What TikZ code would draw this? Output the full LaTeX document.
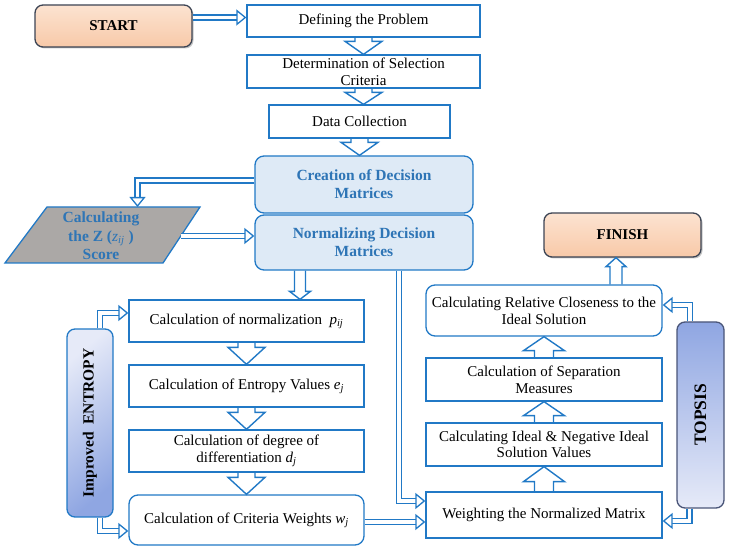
\documentclass[tikz,border=0pt]{standalone}
\usepackage{fontspec}
\setmainfont{Liberation Serif}
\usetikzlibrary{arrows.meta,calc,shadows}
\definecolor{bl}{HTML}{2179C6}
\definecolor{tb}{HTML}{2E75B6}
\definecolor{lbf}{HTML}{DEEAF6}
\definecolor{peach}{HTML}{F8C9A8}
\definecolor{peachl}{HTML}{FCE3D1}
\definecolor{dk}{HTML}{3C4454}
\definecolor{gr}{HTML}{ABA8A6}
\definecolor{pb}{HTML}{8FA6E2}
\definecolor{pl}{HTML}{E6EAF8}
\definecolor{tpb}{HTML}{4A5578}
\newcommand{\blockv}[5]{%
  \draw[blk] let \p1=(#1), \p2=(#2) in
    ({\x1-#3pt},\y1) -- ({\x1-#3pt},{\y2+(#5pt)}) -- ({\x1-#4pt},{\y2+(#5pt)})
    -- (\x1,\y2) -- ({\x1+#4pt},{\y2+(#5pt)}) -- ({\x1+#3pt},{\y2+(#5pt)})
    -- ({\x1+#3pt},\y1);}
\begin{document}
\begin{tikzpicture}[x=1pt,y=1pt,
  box/.style={draw=bl, line width=1.3pt, fill=white, align=center, inner sep=1pt,
    font=\fontsize{15}{16.8}\selectfont},
  rbox/.style={box, rounded corners=9pt},
  bbox/.style={rbox, fill=lbf, text=tb, font=\fontsize{15.5}{18}\selectfont\bfseries},
  term/.style={draw=dk, line width=1.3pt, rounded corners=8pt, top color=peachl,
    bottom color=peach, drop shadow={shadow xshift=1.5pt, shadow yshift=-1.5pt, opacity=0.45},
    font=\fontsize{15}{18}\selectfont\bfseries},
  conn/.style={draw=bl, line width=1.4pt, double=white, double distance=3.8pt,
    -{Triangle[width=16pt 0 0, length=10pt 0 0, fill=white, line width=1.3pt 0 0]}},
  blk/.style={draw=bl, line width=1.4pt, line join=miter},
  vtext/.style={rotate=90, font=\fontsize{15.5}{18}\selectfont\bfseries}
]
\useasboundingbox (0,0) rectangle (734,553);

% terminals
\node[term, minimum width=157pt, minimum height=42pt] (st) at (113.5,527) {START};
\node[term, minimum width=157pt, minimum height=44pt] (fin) at (622.5,318) {FINISH};

% top column
\node[box, minimum width=233pt, minimum height=32pt] (def) at (363.5,532) {Defining the Problem};
\node[box, minimum width=233pt, minimum height=33pt] (det) at (363.5,481.5) {Determination of Selection\\Criteria};
\node[box, minimum width=181pt, minimum height=33pt] (dc) at (359.5,431.5) {Data Collection};
\node[bbox, minimum width=218pt, minimum height=57pt] (cr) at (364,368.5) {Creation of Decision\\Matrices};
\node[bbox, minimum width=218pt, minimum height=55pt] (nm) at (364,310.5) {Normalizing Decision\\Matrices};

% parallelogram
\path[draw=bl, line width=1.3pt, fill=gr] (47,346) -- (200,346) -- (163,290) -- (5,290) -- cycle;
\node[align=center, text=tb, font=\fontsize{15.5}{18.5}\selectfont\bfseries] (zs) at (101,317)
  {Calculating\\the Z (\textit{\mdseries z}\textsubscript{\textit{\mdseries ij}} )\\Score};
\coordinate (ztop) at (137.5,346);
\coordinate (zright) at (181,317);

% entropy column
\node[box, minimum width=235pt, minimum height=42pt] (p) at (246.5,232) {Calculation of normalization~~\textit{p}\textsubscript{\textit{ij}}};
\node[box, minimum width=235pt, minimum height=42pt] (e) at (246.5,167) {Calculation of Entropy Values \textit{e}\textsubscript{\textit{j}}};
\node[box, minimum width=235pt, minimum height=42pt] (d) at (246.5,102) {Calculation of degree of\\differentiation \textit{d}\textsubscript{\textit{j}}};
\node[rbox, minimum width=235pt, minimum height=50pt] (w) at (246.5,33) {Calculation of Criteria Weights \textit{w}\textsubscript{\textit{j}}};

\node[draw=bl, line width=1.3pt, rounded corners=8pt, minimum width=46pt, minimum height=188pt,
  top color=pl, bottom color=pb, shading angle=40] (ent) at (90,130) {};
\node[vtext] (entt) at (ent.center) {Improved\ \ ENTROPY};

% topsis column
\node[box, minimum width=236pt, minimum height=46pt] (wt) at (544,38) {Weighting\ the Normalized Matrix};
\node[box, minimum width=236pt, minimum height=43pt] (id) at (544,108.5) {Calculating Ideal \& Negative Ideal\\Solution Values};
\node[box, minimum width=236pt, minimum height=43pt] (sp) at (544,173.5) {Calculation of Separation\\Measures};
\node[rbox, minimum width=236pt, minimum height=51pt] (rc) at (544,242.5) {Calculating Relative Closeness to the\\Ideal Solution};

\node[draw=tpb, line width=1.3pt, rounded corners=8pt, minimum width=47pt, minimum height=186pt,
  top color=pb, bottom color=pl] (tp) at (700.5,138) {};
\node[vtext, font=\fontsize{17.5}{20}\selectfont\bfseries] (tpt) at (tp.center) {TOPSIS};

% block arrows
\blockv{def.south}{det.north}{8.5}{18.5}{13}
\blockv{det.south}{dc.north}{8.5}{18.5}{12}
\blockv{dc.south}{cr.north}{8.5}{18.5}{13}
\blockv{[xshift=-64pt]nm.south}{p.north}{5.5}{10.5}{8}
\blockv{p.south}{e.north}{8.5}{18.5}{17}
\blockv{e.south}{d.north}{8.5}{18.5}{17}
\blockv{d.south}{w.north}{8.5}{18.5}{17}
\blockv{wt.north}{id.south}{9.5}{20.5}{-15}
\blockv{id.north}{sp.south}{9.5}{20.5}{-14}
\blockv{sp.north}{rc.south}{9.5}{20.5}{-14}
\blockv{[xshift=72pt]rc.north}{fin.south}{6}{10}{-9}

% double connectors
\draw[conn] ([yshift=8.5pt]st.east) -- ([yshift=8.5pt]st.east -| def.west);
\draw[conn] ([yshift=4pt]cr.west) -| (ztop);
\draw[conn] (zright) -- (zright -| nm.west);
\draw[conn] ([xshift=10pt]ent.north) |- ([yshift=8pt]p.west);
\draw[conn] ([xshift=10pt]ent.south) |- ([yshift=-11pt]w.west);
\draw[conn] ([yshift=-2pt]w.east) -- ([yshift=-2pt]w.east -| wt.west);
\draw[conn] ([xshift=35pt]nm.south) |- ([yshift=14pt]wt.west);
\draw[conn] ([xshift=-10.5pt]tp.north) |- ([yshift=5.5pt]rc.east);
\draw[conn] ([xshift=-11pt]tp.south) |- ([yshift=-6pt]wt.east);
\end{tikzpicture}
\end{document}
